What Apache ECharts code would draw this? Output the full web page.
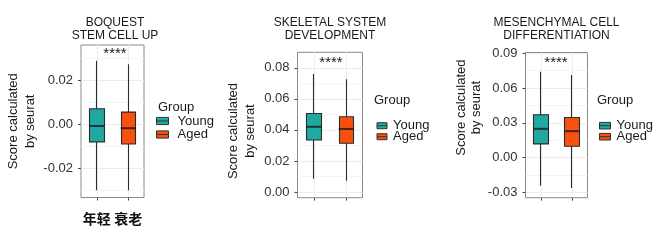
<!DOCTYPE html>
<html><head><meta charset="utf-8">
<script src="https://cdn.jsdelivr.net/npm/echarts@6/dist/echarts.min.js"></script>
<style>html,body{margin:0;padding:0;background:#fff}#c{width:660px;height:251px}</style>
</head><body><div id="c"></div>
<script>
const categories = ['年轻', '衰老'];
const groupNames = ['Young', 'Aged'];
const panelTitles = ['BOQUEST\nSTEM CELL UP', 'SKELETAL SYSTEM\nDEVELOPMENT', 'MESENCHYMAL CELL\nDIFFERENTIATION'];
const yAxisTitle = 'Score calculated\nby seurat';
const legendTitle = 'Group';
const signif = '****';
// [min, Q1, median, Q3, max]
const youngBox1 = [-0.0300, -0.0080, -0.0008, 0.0070, 0.0288];
const agedBox1  = [-0.0300, -0.0090, -0.0018, 0.0055, 0.0273];
const youngBox2 = [0.0085, 0.0335, 0.0420, 0.0506, 0.0760];
const agedBox2  = [0.0072, 0.0314, 0.0406, 0.0485, 0.0726];
const youngBox3 = [-0.0242, 0.0118, 0.0248, 0.0369, 0.0741];
const agedBox3  = [-0.0262, 0.0098, 0.0228, 0.0346, 0.0712];
const yTicks1 = [-0.02, 0.00, 0.02];
const yTicks2 = [0.00, 0.02, 0.04, 0.06, 0.08];
const yTicks3 = [-0.03, 0.00, 0.03, 0.06, 0.09];
const yMinor1 = [-0.03, -0.01, 0.01, 0.03];
const yMinor2 = [0.01, 0.03, 0.05, 0.07];
const yMinor3 = [-0.015, 0.015, 0.045, 0.075];
const yRange1 = [-0.0333, 0.0360];
const yRange2 = [-0.0037, 0.0900];
const yRange3 = [-0.0346, 0.0906];

const youngColor = '#1fa9a1';
const agedColor = '#f7500f';
const lineColor = '#2b2b2b';
const FONT = '"Liberation Sans", Arial, sans-serif';

const panels = [
  {young: youngBox1, aged: agedBox1, ticks: yTicks1, minor: yMinor1, range: yRange1, showX: true,
   grid: {left: 81, top: 45, width: 63, height: 152.5},
   nameGap: 42, nameLH: 17, namePad: [0, 0, 0, 0],
   titleX: 115, starX: 115, starY: 54,
   groupX: 158, groupY: 107, legendLeft: 156, legendTop: 114.5, legendGap: 0.5, iconW: 12, textPad: 4},
  {young: youngBox2, aged: agedBox2, ticks: yTicks2, minor: yMinor2, range: yRange2, showX: false,
   grid: {left: 297.5, top: 52.3, width: 65, height: 145.4},
   nameGap: 39, nameLH: 17, namePad: [0, 12, 0, 0],
   titleX: 330, starX: 331, starY: 62.5,
   groupX: 374, groupY: 100, legendLeft: 376.5, legendTop: 119.2, legendGap: -2, iconW: 10, textPad: 1},
  {young: youngBox3, aged: agedBox3, ticks: yTicks3, minor: yMinor3, range: yRange3, showX: false,
   grid: {left: 525.5, top: 52.5, width: 62, height: 145.2},
   nameGap: 39.5, nameLH: 15, namePad: [0, 0, 0, 35],
   titleX: 556.5, starX: 556, starY: 62.5,
   groupX: 597, groupY: 100, legendLeft: 599, legendTop: 119.2, legendGap: -2, iconW: 11, textPad: 1}
];

const grid = [], xAxis = [], yAxis = [], series = [], legend = [], graphic = [];
panels.forEach((p, i) => {
  grid.push(Object.assign({show: true, borderColor: '#8a8a8a', borderWidth: 1, backgroundColor: '#fff'}, p.grid));
  // main category axis
  xAxis.push({
    type: 'category', gridIndex: i, data: categories, boundaryGap: true, position: 'bottom',
    axisLine: {show: false, onZero: false},
    axisTick: {show: true, alignWithLabel: true, interval: 0, length: 3, lineStyle: {color: '#444'}},
    axisLabel: {show: p.showX, interval: 0, margin: 14, fontFamily: '"Noto Sans CJK SC", sans-serif', fontWeight: 'bold', fontSize: 14, color: '#111'},
    splitLine: {show: false}
  });
  // helper axis for vertical grid lines at category centres
  xAxis.push({
    type: 'value', gridIndex: i, min: 0, max: 2 * categories.length, position: 'top',
    axisLine: {show: false, onZero: false}, axisLabel: {show: false},
    axisTick: {show: false, customValues: categories.map((c, k) => 2 * k + 1)},
    splitLine: {show: true, lineStyle: {color: '#ededed', width: 1}}
  });
  yAxis.push({
    type: 'value', gridIndex: i, min: p.range[0], max: p.range[1], position: 'left',
    name: yAxisTitle, nameLocation: 'middle', nameRotate: 90, nameGap: p.nameGap,
    nameTextStyle: {fontFamily: FONT, fontSize: 13, color: '#1a1a1a', lineHeight: p.nameLH, padding: p.namePad},
    axisLine: {show: false, onZero: false},
    axisTick: {show: true, length: 3, lineStyle: {color: '#444'}, customValues: p.ticks},
    axisLabel: {fontFamily: FONT, fontSize: 13, color: '#333', margin: 8, customValues: p.ticks,
      formatter: v => v.toFixed(2)},
    splitLine: {show: true, lineStyle: {color: '#ebebeb', width: 1}}
  });
  // helper axis for minor horizontal grid lines
  yAxis.push({
    type: 'value', gridIndex: i, min: p.range[0], max: p.range[1], position: 'right',
    axisLine: {show: false, onZero: false}, axisLabel: {show: false},
    axisTick: {show: false, customValues: p.minor},
    splitLine: {show: true, lineStyle: {color: '#f3f3f3', width: 0.8}}
  });
  [[groupNames[0], p.young, 0, youngColor], [groupNames[1], p.aged, 1, agedColor]].forEach(([name, box, ci, col]) => {
    series.push({
      name, type: 'candlestick', xAxisIndex: 2 * i, yAxisIndex: 2 * i,
      barWidth: 15,
      encode: {x: 0, y: [1, 2, 3, 4]},
      itemStyle: {color: col, color0: col, borderColor: lineColor, borderColor0: lineColor, borderWidth: 1.1},
      emphasis: {disabled: true},
      // [category, open=Q1, close=Q3, lowest=min, highest=max]
      data: [[ci, box[1], box[3], box[0], box[4]]]
    });
    series.push({
      name: name + ' median', type: 'scatter', xAxisIndex: 2 * i, yAxisIndex: 2 * i,
      symbol: 'rect', symbolSize: [15, 2], z: 5, silent: true,
      itemStyle: {color: '#1a1a1a'},
      data: [[ci, box[2]]]
    });
  });
  legend.push({
    data: [
      {name: groupNames[0], itemStyle: {color: youngColor, borderColor: '#333', borderWidth: 1}},
      {name: groupNames[1], itemStyle: {color: agedColor, borderColor: '#333', borderWidth: 1}}
    ],
    orient: 'vertical', left: p.legendLeft, top: p.legendTop, padding: 0,
    itemWidth: p.iconW, itemHeight: 8, itemGap: p.legendGap, selectedMode: false,
    icon: 'path://M0,0L20,0L20,12L0,12Z M0,6L20,6',
    textStyle: {fontFamily: FONT, fontSize: 13, color: '#1a1a1a', padding: [0, 0, 0, p.textPad]}
  });
  graphic.push({
    type: 'text', x: p.titleX, y: 29, silent: true,
    style: {text: panelTitles[i], fontFamily: FONT, fontSize: 12, lineHeight: 13.5, fill: '#1a1a1a', align: 'center', verticalAlign: 'middle'}
  });
  graphic.push({
    type: 'text', x: p.starX, y: p.starY, silent: true,
    style: {text: signif, fontFamily: FONT, fontSize: 15, fill: '#1a1a1a', align: 'center', verticalAlign: 'middle'}
  });
  graphic.push({
    type: 'text', x: p.groupX, y: p.groupY, silent: true,
    style: {text: legendTitle, fontFamily: FONT, fontSize: 13, fill: '#1a1a1a', align: 'left', verticalAlign: 'middle'}
  });
});

const chart = echarts.init(document.getElementById('c'), null, {renderer: 'canvas'});
chart.setOption({
  animation: false, backgroundColor: '#fff',
  grid, xAxis, yAxis, series, legend, graphic,
  tooltip: {show: false}
});
</script></body></html>
